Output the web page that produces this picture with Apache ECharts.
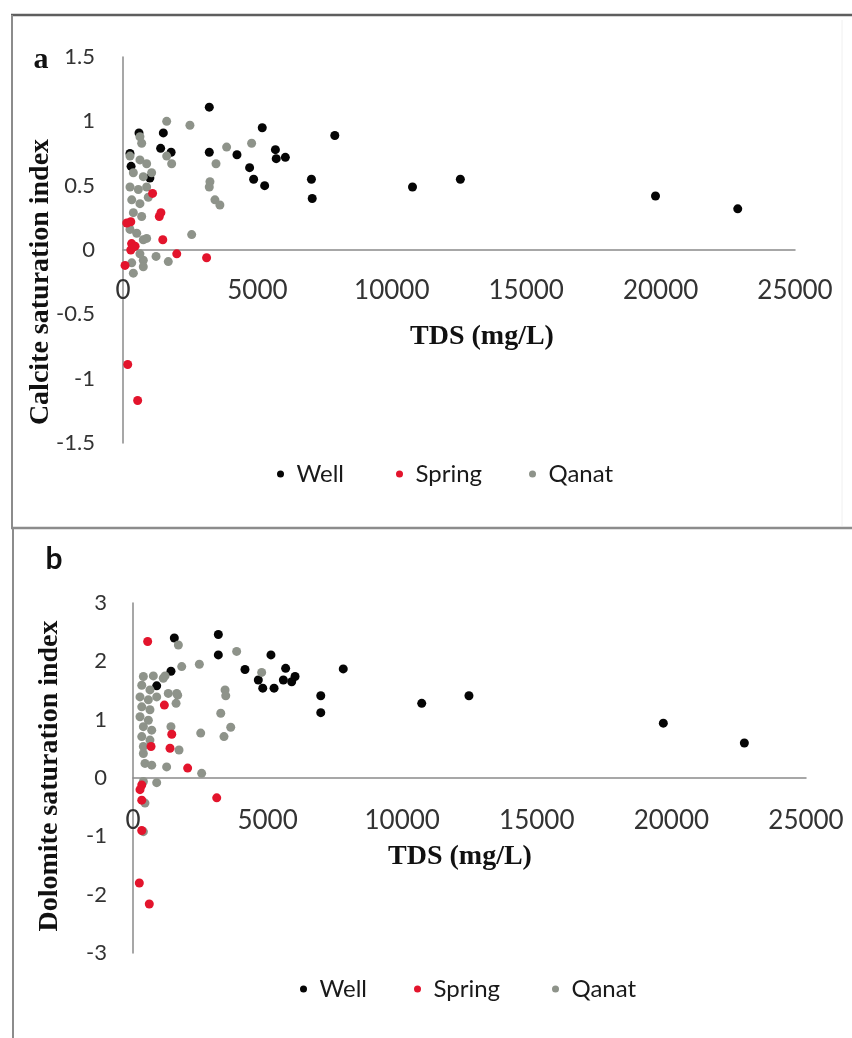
<!DOCTYPE html>
<html>
<head>
<meta charset="utf-8">
<script src="https://cdn.jsdelivr.net/npm/echarts@6.0.0/dist/echarts.min.js"></script>
<style>
  html, body { margin: 0; padding: 0; background: #ffffff; }
  #chart { width: 852px; height: 1038px; }
</style>
</head>
<body>
<div id="chart"></div>
<script>
// Saturation indices against total dissolved solids, [TDS mg/L, SI]
const calciteWell = [
  [595, 0.91], [1500, 0.91], [1400, 0.79], [1790, 0.76], [260, 0.75], [300, 0.65],
  [1000, 0.56], [3210, 1.11], [3210, 0.76], [4240, 0.74], [4710, 0.64], [4860, 0.55],
  [5270, 0.50], [5670, 0.78], [5700, 0.71], [6040, 0.72], [7010, 0.55], [7040, 0.40],
  [7880, 0.89], [5180, 0.95], [10770, 0.49], [12550, 0.55], [19810, 0.42], [22870, 0.32]
];
const calciteSpring = [
  [1100, 0.44], [1350, 0.26], [1410, 0.29], [1480, 0.08], [2000, -0.03], [3110, -0.06],
  [290, 0.22], [140, 0.21], [320, 0.05], [290, 0.00], [450, 0.03], [370, 0.02],
  [75, -0.12], [175, -0.89], [545, -1.17]
];
const calciteQanat = [
  [1625, 1.00], [2490, 0.97], [630, 0.88], [695, 0.83], [3855, 0.80], [4785, 0.83],
  [1625, 0.73], [1810, 0.67], [3460, 0.67], [3235, 0.53], [3210, 0.49], [3420, 0.39],
  [3605, 0.35], [2555, 0.12], [880, 0.09], [1230, -0.05], [1685, -0.09], [755, -0.08],
  [260, 0.73], [630, 0.70], [880, 0.67], [385, 0.60], [755, 0.57], [1065, 0.60],
  [260, 0.49], [570, 0.47], [880, 0.49], [325, 0.39], [630, 0.36], [940, 0.41],
  [385, 0.29], [695, 0.26], [260, 0.16], [510, 0.13], [755, 0.08], [385, 0.03],
  [630, -0.03], [325, -0.10], [385, -0.18], [755, -0.13]
];
const dolomiteWell = [
  [1535, 2.40], [3170, 2.46], [3170, 2.11], [5125, 2.11], [4160, 1.86], [7810, 1.87],
  [1410, 1.83], [880, 1.58], [4655, 1.68], [4820, 1.54], [5240, 1.54], [5670, 1.88],
  [5585, 1.68], [5895, 1.65], [6020, 1.74], [6975, 1.41], [6975, 1.12], [10725, 1.28],
  [12480, 1.41], [19700, 0.94], [22710, 0.60]
];
const dolomiteSpring = [
  [545, 2.34], [1165, 1.25], [1440, 0.75], [670, 0.54], [1375, 0.51], [2030, 0.17],
  [3110, -0.34], [325, -0.12], [325, -0.38], [260, -0.20], [235, -1.80], [605, -2.16],
  [325, -0.90]
];
const dolomiteQanat = [
  [1685, 2.28], [1810, 1.91], [2465, 1.95], [3850, 2.17], [4780, 1.81], [3420, 1.51],
  [3445, 1.41], [3260, 1.11], [3630, 0.87], [3380, 0.71], [2515, 0.77], [1660, 1.42],
  [1600, 1.28], [1410, 0.88], [1710, 0.48], [1250, 0.19], [2550, 0.08], [880, -0.08],
  [385, -0.06], [385, -0.92], [445, -0.43],
  [385, 1.74], [755, 1.75], [1125, 1.71], [325, 1.59], [630, 1.51], [260, 1.39],
  [570, 1.34], [880, 1.39], [325, 1.22], [630, 1.17], [260, 1.05], [570, 0.99],
  [385, 0.88], [695, 0.82], [325, 0.71], [630, 0.65], [385, 0.54], [445, 0.25],
  [695, 0.22], [385, 0.42], [1190, 1.75], [1310, 1.45], [1625, 1.45]
];

const sourceNames = ['Well', 'Spring', 'Qanat'];
const tdsRange = [0, 25000, 5000];
const calciteRange = [-1.5, 1.5, 0.5];
const dolomiteRange = [-3, 3, 1];

const COLORS = { Well: '#050505', Spring: '#e3142c', Qanat: '#8e938a' };
const SANS = 'Lato, "Open Sans", sans-serif';
const SERIF = '"Liberation Serif", "DejaVu Serif", serif';

// The TDS labels sit just under the zero line, so they are pulled up from the grid bottom
function xAxisFor(gridIndex, margin) {
  return {
    type: 'value', gridIndex,
    min: tdsRange[0], max: tdsRange[1], interval: tdsRange[2],
    axisLine: { onZero: true, lineStyle: { color: '#8a8a8a', width: 1.5 } },
    axisTick: { show: false },
    splitLine: { show: false },
    axisLabel: {
      fontFamily: SANS, fontSize: 26, color: '#333', margin,
      formatter: v => String(v)
    }
  };
}
function yAxisFor(gridIndex, range, margin) {
  return {
    type: 'value', gridIndex,
    min: range[0], max: range[1], interval: range[2],
    axisLine: { show: true, onZero: false, lineStyle: { color: '#8a8a8a', width: 1.5 } },
    axisTick: { show: false },
    splitLine: { show: false },
    axisLabel: { fontFamily: SANS, fontSize: 22, color: '#333', margin }
  };
}
function scatter(name, data, idx) {
  return {
    type: 'scatter', name, data,
    xAxisIndex: idx, yAxisIndex: idx,
    symbol: 'circle', symbolSize: 9,
    itemStyle: { color: COLORS[name], opacity: 1 },
    emphasis: { disabled: true }
  };
}
// one legend entry per component so each dot lands where it should
function legendItem(name, dotX, centerY) {
  return {
    data: [name], left: dotX - 11, top: centerY - 14,
    icon: 'circle', itemWidth: 22, itemHeight: 7,
    textStyle: { fontFamily: SANS, fontSize: 24, color: '#1a1a1a', lineHeight: 28 },
    selectedMode: false
  };
}
function label(text, x, y, font, extra) {
  return Object.assign({
    type: 'text', x, y,
    style: { text, font, fill: '#111', textAlign: 'center', textVerticalAlign: 'middle' }
  }, extra || {});
}

const legendDotsTop = [283, 402, 535];
const legendDotsBottom = [306, 420, 558];

const chart = echarts.init(document.getElementById('chart'));
chart.setOption({
  animation: false,
  backgroundColor: '#ffffff',
  grid: [
    { left: 123, top: 57, width: 672, height: 386 },
    { left: 133, top: 603, width: 673, height: 350 }
  ],
  xAxis: [xAxisFor(0, -165), xAxisFor(1, -145)],
  yAxis: [yAxisFor(0, calciteRange, 28), yAxisFor(1, dolomiteRange, 26)],
  legend: sourceNames.map((n, i) => legendItem(n, legendDotsTop[i], 469))
    .concat(sourceNames.map((n, i) => legendItem(n, legendDotsBottom[i], 984))),
  series: [
    scatter('Well', calciteWell, 0),
    scatter('Qanat', calciteQanat, 0),
    scatter('Spring', calciteSpring, 0),
    scatter('Well', dolomiteWell, 1),
    scatter('Qanat', dolomiteQanat, 1),
    scatter('Spring', dolomiteSpring, 1)
  ],
  graphic: [
    // panel frames
    { type: 'line', shape: { x1: 11, y1: 15, x2: 852, y2: 15 }, style: { stroke: '#5e5e5e', lineWidth: 2.5 } },
    { type: 'line', shape: { x1: 12, y1: 15, x2: 12, y2: 528 }, style: { stroke: '#8c8c8c', lineWidth: 2 } },
    { type: 'line', shape: { x1: 11, y1: 528, x2: 852, y2: 528 }, style: { stroke: '#8c8c8c', lineWidth: 2.5 } },
    { type: 'line', shape: { x1: 13, y1: 528, x2: 13, y2: 1038 }, style: { stroke: '#8c8c8c', lineWidth: 2 } },
    { type: 'line', shape: { x1: 842, y1: 20, x2: 842, y2: 526 }, style: { stroke: '#f0f0f0', lineWidth: 1 } },
    // panel letters
    label('a', 41, 60, 'bold 30px ' + SERIF),
    label('b', 54, 559, 'bold 30px ' + SANS),
    // axis titles
    label('Calcite saturation index', 41, 282, 'bold 28px ' + SERIF, { rotation: Math.PI / 2 }),
    label('TDS (mg/L)', 482, 337, 'bold 28px ' + SERIF),
    label('Dolomite saturation index', 50, 776, 'bold 28px ' + SERIF, { rotation: Math.PI / 2 }),
    label('TDS (mg/L)', 460, 857, 'bold 28px ' + SERIF)
  ]
});
</script>
</body>
</html>
